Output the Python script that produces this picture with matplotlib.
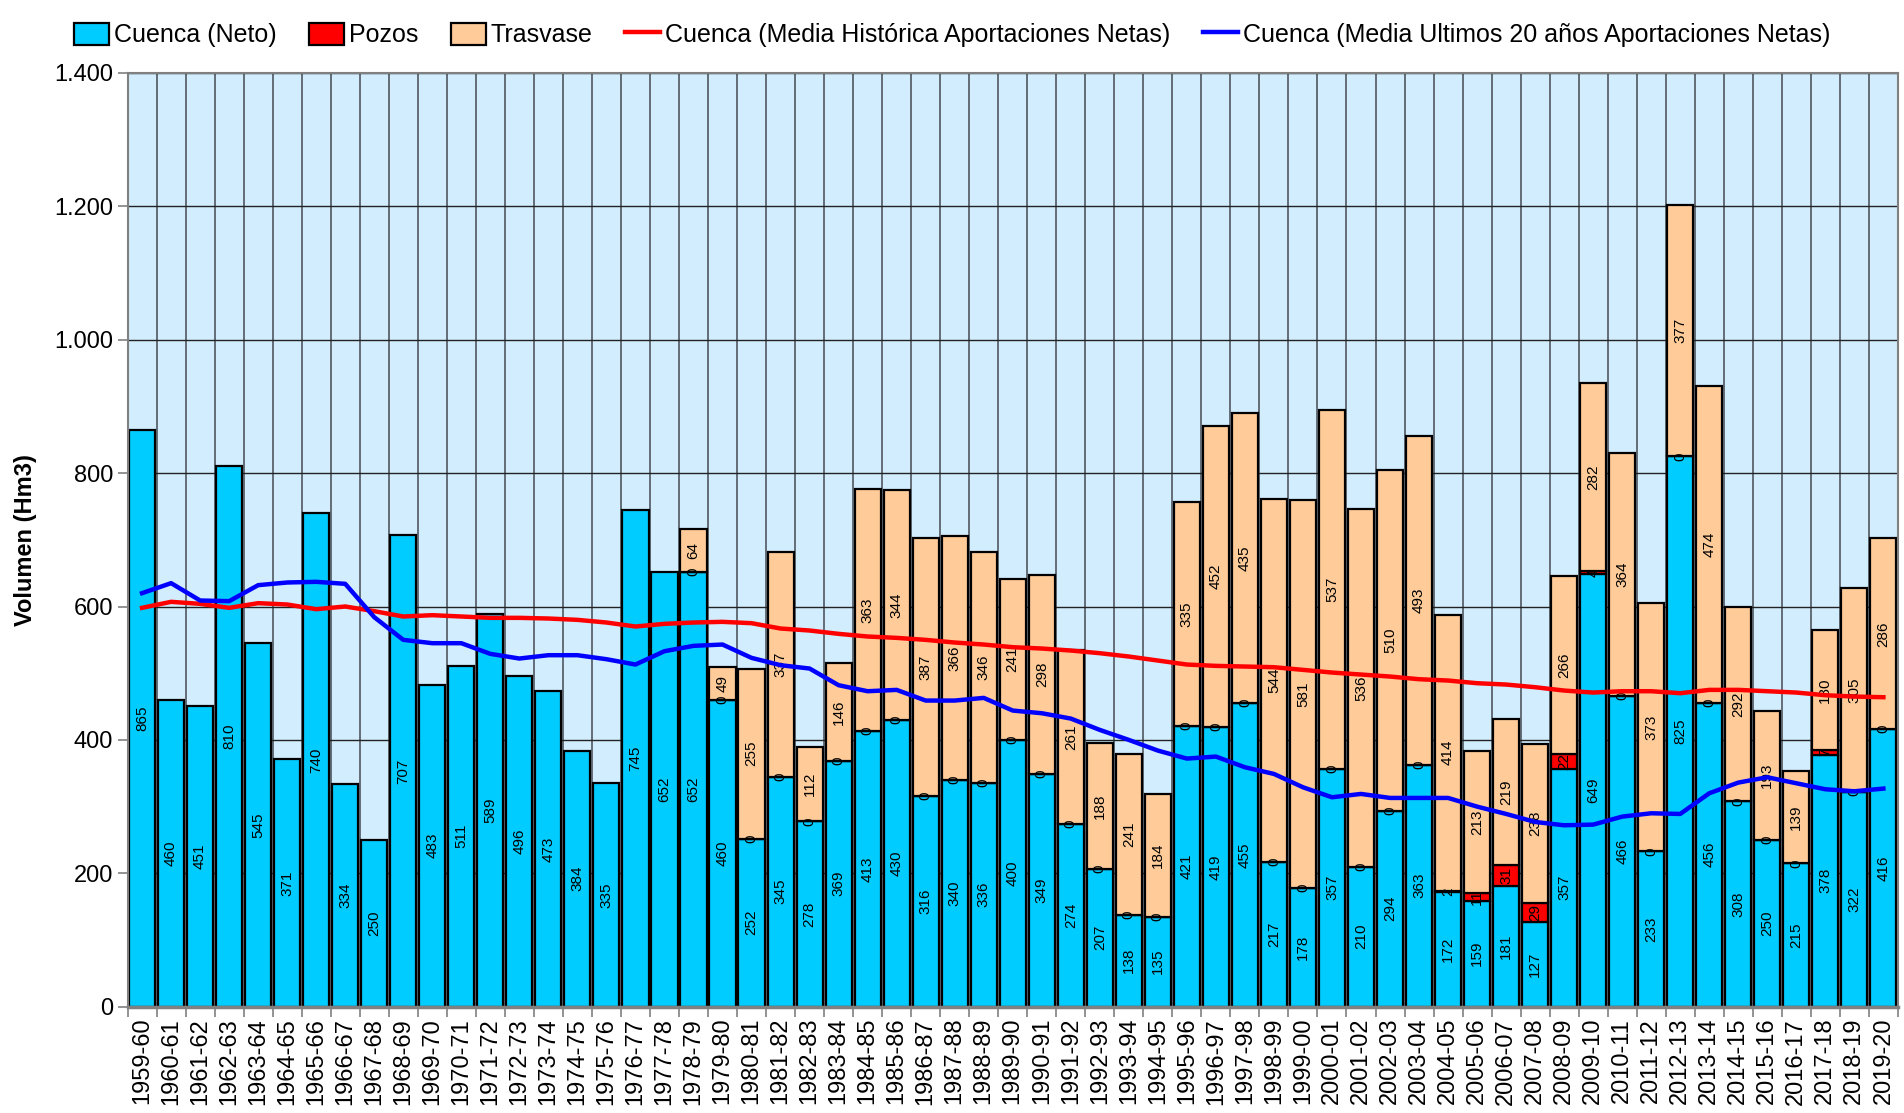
import numpy as np
import matplotlib
matplotlib.use("Agg")
import matplotlib.pyplot as plt
from matplotlib.ticker import FuncFormatter, MultipleLocator

plt.rcParams['font.family'] = ['Liberation Sans', 'DejaVu Sans']

# hydrological years 1959-60 .. 2019-20
years = [f"{y}-{(y + 1) % 100:02d}" for y in range(1959, 2020)]

cuenca = [865, 460, 451, 810, 545, 371, 740, 334, 250, 707, 483, 511, 589, 496, 473, 384,
          335, 745, 652, 652, 460, 252, 345, 278, 369, 413, 430, 316, 340, 336, 400, 349,
          274, 207, 138, 135, 421, 419, 455, 217, 178, 357, 210, 294, 363, 172, 159, 181,
          127, 357, 649, 466, 233, 825, 456, 308, 250, 215, 378, 322, 416]

# pozos / trasvase only exist from 1978-79 on
nan = np.nan
pozos = [nan] * 19 + [0, 0, 0, 0, 0, 0, 0, 0, 0, 0, 0, 0, 0, 0, 0, 0, 0, 0, 0, 0, 0, 0,
                      0, 0, 0, 0, 2, 11, 31, 29, 22, 4, 0, 0, 0, 0, 0, 0, 0, 7, 0, 0]
trasvase = [nan] * 19 + [64, 49, 255, 337, 112, 146, 363, 344, 387, 366, 346, 241, 298,
                         261, 188, 241, 184, 335, 452, 435, 544, 581, 537, 536, 510, 493,
                         414, 213, 219, 238, 266, 282, 364, 373, 377, 474, 292, 193, 139,
                         180, 305, 286]

media_historica = [598, 607, 604, 598, 605, 603, 596, 600, 593, 585, 587, 585, 583, 583,
                   582, 580, 576, 570, 574, 576, 577, 575, 567, 564, 559, 555, 553, 550,
                   546, 543, 539, 537, 534, 530, 525, 519, 513, 511, 510, 509, 505, 501,
                   498, 495, 491, 489, 485, 483, 479, 474, 471, 473, 473, 470, 475, 475,
                   473, 471, 467, 465, 464]

media_20 = [620, 635, 609, 608, 632, 636, 637, 634, 584, 550, 545, 545, 529, 522, 527, 527,
            521, 513, 533, 541, 543, 523, 512, 507, 482, 473, 475, 459, 459, 463, 444, 440,
            432, 415, 400, 384, 372, 375, 359, 349, 329, 314, 319, 313, 313, 313, 300, 289,
            277, 272, 273, 285, 290, 289, 320, 336, 344, 335, 326, 323, 327]

cuenca = np.array(cuenca, dtype=float)
pozos = np.array(pozos, dtype=float)
trasvase = np.array(trasvase, dtype=float)
x = np.arange(len(years))

fig = plt.figure(figsize=(19.04, 11.13), dpi=100)
ax = fig.add_axes([0.067, 0.0955, 0.9298, 0.839])
ax.set_facecolor('#D2EDFD')

w = 0.9
edge = dict(edgecolor='black', linewidth=1.6)
lbl = dict(label_type='center', rotation=90, fontsize=11, fmt='%d')

b1 = ax.bar(x, cuenca, w, color='#00CCFF', label='Cuenca (Neto)', zorder=2, **edge)
ax.bar_label(b1, **lbl)

m = ~np.isnan(pozos)
b2 = ax.bar(x[m], pozos[m], w, bottom=cuenca[m], color='#FF0000', label='Pozos', zorder=2, **edge)
ax.bar_label(b2, **lbl)

b3 = ax.bar(x[m], trasvase[m], w, bottom=cuenca[m] + pozos[m], color='#FFCC99',
            label='Trasvase', zorder=2, **edge)
ax.bar_label(b3, **lbl)

l1, = ax.plot(x, media_historica, color='#FF0000', lw=3.2, zorder=5,
              label='Cuenca (Media Histórica Aportaciones Netas)')
l2, = ax.plot(x, media_20, color='#0000FF', lw=3.2, zorder=5,
              label='Cuenca (Media Ultimos 20 años Aportaciones Netas)')

ax.set_xlim(-0.5, len(years) - 0.5)
ax.set_ylim(0, 1400)
ax.yaxis.set_major_locator(MultipleLocator(200))
ax.yaxis.set_major_formatter(FuncFormatter(lambda v, p: f"{int(v):,}".replace(",", ".")))
ax.set_xticks(x)
ax.set_xticklabels(years, rotation=90, fontsize=17)
ax.set_xticks(np.arange(-0.5, len(years)), minor=True)
ax.tick_params(axis='x', which='major', length=0, pad=8)
ax.tick_params(axis='x', which='minor', length=7, color='#808080', width=1.2)
ax.tick_params(axis='y', labelsize=17, length=7, color='#808080', width=1.2)

ax.grid(axis='y', which='major', color='#222222', lw=1.0, zorder=0)
ax.grid(axis='x', which='minor', color='#505860', lw=1.2, zorder=0)
ax.set_axisbelow(True)
for s in ax.spines.values():
    s.set_color('#808080')
    s.set_linewidth(1.5)
ax.spines['bottom'].set_linewidth(2.5)

ax.set_ylabel('Volumen (Hm3)', fontsize=17, fontweight='bold', labelpad=12)

fig.legend(handles=[b1, b2, b3, l1, l2], loc='upper center', bbox_to_anchor=(0.5, 1.0),
           ncol=5, frameon=False, fontsize=18, handlelength=1.4, handleheight=1.0,
           handletextpad=0.2, columnspacing=1.3)

fig.savefig('out.png', dpi=100)
